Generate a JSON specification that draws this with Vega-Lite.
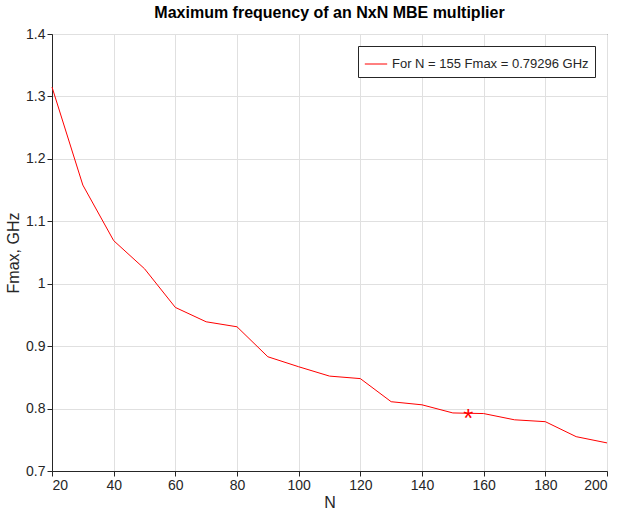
{
  "$schema": "https://vega.github.io/schema/vega-lite/v6.json",
  "autosize": {"type": "fit", "contains": "padding"},
  "width": 625,
  "height": 515,
  "padding": {"left": 5, "right": 16, "top": 5, "bottom": 5},
  "background": "white",
  "title": {"text": "Maximum frequency of an NxN MBE multiplier", "font": "Arial", "fontSize": 16, "fontWeight": "bold", "color": "black", "offset": 6},
  "config": {
    "font": "Arial",
    "view": {"stroke": "#262626", "strokeWidth": 1},
    "axis": {"labelFont": "Arial", "labelFontSize": 14, "labelColor": "#262626", "titleFont": "Arial", "titleFontSize": 16, "titleFontWeight": "normal", "titleColor": "#262626", "gridColor": "#e0e0e0", "domainColor": "#262626", "tickColor": "#262626", "tickSize": 5}
  },
  "datasets": {
    "curve": [
      {"N": 20, "F": 1.315}, {"N": 30, "F": 1.158}, {"N": 40, "F": 1.069}, {"N": 50, "F": 1.024},
      {"N": 60, "F": 0.962}, {"N": 70, "F": 0.939}, {"N": 80, "F": 0.931}, {"N": 90, "F": 0.883},
      {"N": 100, "F": 0.867}, {"N": 110, "F": 0.852}, {"N": 120, "F": 0.848}, {"N": 130, "F": 0.811},
      {"N": 140, "F": 0.806}, {"N": 150, "F": 0.793}, {"N": 160, "F": 0.792}, {"N": 170, "F": 0.782},
      {"N": 180, "F": 0.779}, {"N": 190, "F": 0.755}, {"N": 200, "F": 0.745}
    ],
    "marker": [{"N": 155, "F": 0.79296, "s": "*"}]
  },
  "layer": [
    {
      "data": {"name": "curve"},
      "mark": {"type": "line", "strokeWidth": 1},
      "encoding": {
        "x": {"field": "N", "type": "quantitative", "title": "N", "scale": {"domain": [20, 200], "nice": false}, "axis": {"values": [20, 40, 60, 80, 100, 120, 140, 160, 180, 200], "titlePadding": 2}},
        "y": {"field": "F", "type": "quantitative", "title": "Fmax, GHz", "scale": {"domain": [0.7, 1.4], "nice": false, "zero": false}, "axis": {"values": [0.7, 0.8, 0.9, 1, 1.1, 1.2, 1.3, 1.4], "format": "~g"}},
        "color": {
          "datum": "For N = 155 Fmax = 0.79296 GHz",
          "scale": {"range": ["#ff0000"]},
          "legend": {"title": null, "orient": "top-right", "symbolType": "stroke", "symbolSize": 500, "symbolStrokeWidth": 1, "labelFontSize": 13, "labelLimit": 400, "labelColor": "#262626", "strokeColor": "#262626", "fillColor": "white", "padding": 6, "offset": 12}
        }
      }
    },
    {
      "data": {"name": "marker"},
      "mark": {"type": "text", "color": "#ff0000", "fontSize": 26, "baseline": "middle", "dy": 6},
      "encoding": {
        "x": {"field": "N", "type": "quantitative"},
        "y": {"field": "F", "type": "quantitative"},
        "text": {"field": "s"}
      }
    }
  ]
}
